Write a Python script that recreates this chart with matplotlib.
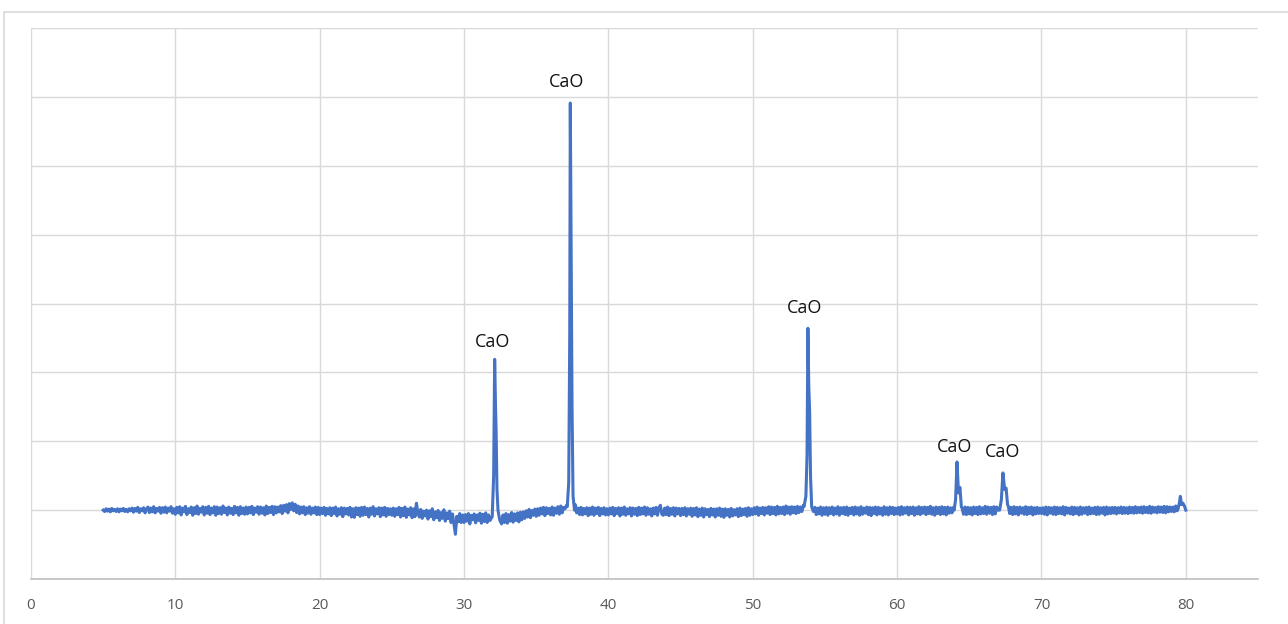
# Difratograma de raios X da amostra calcinada, com os picos de CaO identificados

import matplotlib.pyplot as plt
import numpy as np
from matplotlib.patches import Rectangle

nan = float('nan')

# Fundo (background) de 5.0 a 79.9 graus, passo de 0.1 grau.
# nan = trecho coberto pela varredura fina dos picos
passo_inicial = 5.0
passo = 0.1
fundo = [
    # 5 - 10
    1000, 980, 1020, 985, 1015, 975, 1025, 990, 1010, 980,
    1020, 975, 1015, 990, 1025, 980, 1010, 975, 1020, 990,
    1030, 970, 1025, 985, 1040, 965, 1020, 990, 1035, 960,
    1015, 1045, 965, 1030, 975, 1050, 960, 1025, 985, 1040,
    955, 1035, 970, 1045, 960, 1030, 985, 1050, 955, 1020,
    # 10 - 15
    940, 1040, 960, 1050, 930, 1030, 975, 1055, 935, 1020,
    965, 1045, 925, 1035, 950, 1060, 940, 1025, 970, 1050,
    930, 1040, 955, 1055, 935, 1030, 960, 1050, 925, 1045,
    950, 1035, 940, 1060, 965, 1030, 930, 1045, 955, 1025,
    935, 1055, 960, 1040, 925, 1050, 950, 1030, 940, 1045,
    # 15 - 20
    945, 1040, 960, 1055, 935, 1030, 970, 1050, 940, 1045,
    955, 1035, 930, 1060, 950, 1040, 965, 1055, 935, 1050,
    960, 1045, 975, 1065, 950, 1070, 985, 1080, 960, 1095,
    1010, 1105, 990, 1085, 965, 1060, 945, 1045, 960, 1050,
    935, 1035, 955, 1050, 940, 1030, 960, 1045, 935, 1040,
    # 20 - 25
    935, 1030, 950, 1040, 925, 1025, 945, 1035, 920, 1030,
    950, 1045, 915, 1020, 940, 1035, 905, 1030, 945, 1025,
    930, 1040, 900, 1020, 895, 1035, 935, 1030, 910, 1040,
    925, 1045, 935, 1025, 900, 1030, 940, 1050, 915, 1020,
    945, 1035, 905, 1030, 930, 1040, 910, 1025, 935, 1020,
    # 25 - 30
    925, 1030, 910, 1020, 935, 1040, 900, 1025, 920, 1045,
    895, 1015, 930, 1035, 890, 1020, 905, 1100, 960, 900,
    1010, 880, 985, 915, 1000, 870, 990, 905, 1020, 860,
    975, 890, 995, 850, 965, 880, 1005, 840, 960, 875,
    985, 820, 945, 800, 650, 910, 830, 950, 820, 930,
    # 30 - 35
    820, 935, 840, 950, 800, 925, 860, 945, 815, 930,
    850, 955, 810, 940, 835, 960, 820, 930, 850, 890,
    nan, nan, nan, nan, nan, 840, 800, 930, 820, 950,
    810, 935, 840, 965, 825, 945, 850, 960, 830, 970,
    860, 975, 880, 990, 900, 1010, 890, 995, 925, 1015,
    # 35 - 40
    910, 1020, 925, 1030, 945, 1040, 920, 1035, 950, 1025,
    930, 1045, 925, 1030, 955, 1050, 940, 1060, 960, 1040,
    1020, 1070, nan, nan, nan, nan, nan, 1080, 960, 1030,
    935, 1040, 930, 1025, 945, 1035, 920, 1030, 940, 1045,
    925, 1030, 950, 1040, 920, 1025, 945, 1035, 930, 1020,
    # 40 - 45
    930, 1030, 945, 1040, 920, 1025, 950, 1035, 915, 1030,
    940, 1045, 925, 1020, 945, 1035, 915, 1030, 940, 1025,
    920, 1040, 935, 1030, 945, 1045, 925, 1035, 940, 1020,
    915, 1030, 945, 1040, 925, 1035, 1070, 940, 925, 1030,
    935, 1045, 920, 1025, 940, 1035, 915, 1030, 945, 1025,
    # 45 - 50
    920, 1025, 935, 1035, 915, 1020, 940, 1030, 910, 1025,
    930, 1035, 905, 1015, 925, 1030, 900, 1020, 935, 1010,
    905, 1025, 930, 1015, 900, 1020, 925, 1030, 910, 1015,
    895, 1020, 925, 1010, 900, 1025, 915, 1005, 930, 1020,
    905, 1030, 920, 1015, 935, 1025, 910, 1035, 925, 1020,
    # 50 - 55
    935, 1035, 945, 1045, 925, 1030, 950, 1040, 930, 1035,
    955, 1050, 935, 1045, 950, 1040, 930, 1055, 945, 1040,
    950, 1045, 935, 1060, 955, 1045, 940, 1050, 960, 1045,
    950, 1055, 965, 1045, 980, 1070, nan, nan, nan, nan,
    nan, nan, nan, 1040, 935, 1030, 945, 1045, 925, 1035,
    # 55 - 60
    940, 1040, 925, 1035, 950, 1045, 930, 1030, 945, 1050,
    925, 1035, 950, 1040, 935, 1045, 925, 1030, 950, 1040,
    930, 1045, 945, 1035, 925, 1050, 940, 1030, 955, 1045,
    935, 1040, 920, 1035, 950, 1045, 930, 1040, 945, 1030,
    925, 1050, 940, 1035, 930, 1045, 950, 1040, 935, 1030,
    # 60 - 65
    945, 1040, 930, 1050, 940, 1035, 955, 1045, 930, 1040,
    950, 1045, 925, 1035, 945, 1050, 935, 1040, 955, 1045,
    935, 1040, 950, 1055, 940, 1035, 925, 1045, 950, 1040,
    935, 1050, 945, 1040, 930, 1045, 955, 1035, 960, 1040,
    nan, nan, nan, nan, nan, 1030, 940, 1045, 935, 1040,
    # 65 - 70
    945, 1035, 930, 1045, 950, 1040, 935, 1050, 945, 1035,
    950, 1055, 940, 1045, 955, 1040, 935, 1050, 945, 1045,
    1000, nan, nan, nan, nan, nan, nan, 1060, 950, 1040,
    935, 1050, 945, 1040, 930, 1045, 955, 1035, 940, 1050,
    935, 1040, 950, 1045, 930, 1035, 945, 1040, 950, 1030,
    # 70 - 75
    950, 1035, 940, 1045, 930, 1040, 955, 1035, 940, 1045,
    935, 1040, 950, 1035, 945, 1050, 930, 1040, 955, 1030,
    945, 1045, 935, 1040, 950, 1035, 930, 1045, 940, 1035,
    955, 1040, 935, 1045, 945, 1030, 950, 1040, 935, 1045,
    940, 1035, 955, 1040, 930, 1045, 945, 1035, 950, 1040,
    # 75 - 80
    955, 1040, 945, 1035, 960, 1045, 950, 1040, 955, 1035,
    950, 1045, 960, 1040, 955, 1050, 960, 1040, 965, 1045,
    955, 1050, 965, 1040, 960, 1055, 955, 1045, 970, 1040,
    960, 1050, 970, 1045, 965, 1055, 960, 1050, 975, 1045,
    980, 1045, 975, 1060, 990, nan, nan, nan, nan, nan,
]

# Picos de difracao (2theta, contagens) medidos com passo mais fino
pico_32 = ([31.95, 32.05, 32.12, 32.18, 32.22, 32.28, 32.35, 32.45],
           [900, 1500, 3190, 2500, 2160, 1300, 1000, 880])
pico_37 = ([37.15, 37.25, 37.32, 37.36, 37.40, 37.44, 37.48, 37.55, 37.65],
           [1050, 1400, 3500, 6910, 5500, 4150, 2500, 1200, 1000])
pico_54 = ([53.55, 53.68, 53.76, 53.82, 53.88, 53.94, 54.00, 54.08, 54.20],
           [1050, 1200, 1800, 3640, 2800, 2420, 1500, 1050, 980])
pico_64 = ([63.95, 64.05, 64.15, 64.25, 64.35, 64.45],
           [1000, 1150, 1700, 1250, 1330, 1050])
pico_67 = ([67.10, 67.22, 67.33, 67.45, 67.55, 67.65],
           [1000, 1150, 1540, 1300, 1320, 1080])
pico_80 = ([79.45, 79.55, 79.62, 79.70, 79.80, 79.90, 80.00],
           [1010, 1100, 1200, 1080, 1100, 1060, 1000])
picos = [pico_32, pico_37, pico_54, pico_64, pico_67, pico_80]

# Rotulos das fases: (2theta, altura da linha de base do texto)
rotulos_x = [32.0, 37.1, 53.6, 64.0, 67.3]
rotulos_y = [3370, 7140, 3860, 1840, 1770]
rotulos_txt = ['CaO', 'CaO', 'CaO', 'CaO', 'CaO']

# Junta fundo e picos num unico difratograma ordenado por 2theta
fundo = np.array(fundo, dtype=float)
theta_fundo = np.round(passo_inicial + passo * np.arange(len(fundo)), 2)
manter = ~np.isnan(fundo)

dois_theta = np.concatenate([theta_fundo[manter]] + [np.array(p[0]) for p in picos])
intensidade = np.concatenate([fundo[manter]] + [np.array(p[1], dtype=float) for p in picos])
ordem = np.argsort(dois_theta)
dois_theta = dois_theta[ordem]
intensidade = intensidade[ordem]

plt.rcParams['font.family'] = ['Open Sans', 'DejaVu Sans']

fig = plt.figure(figsize=(12.88, 6.24), dpi=100)
ax = fig.add_axes([31 / 1288, 1 - 579 / 624, (1258 - 31) / 1288, (579 - 28) / 624])

# Moldura do grafico
fig.patches.append(Rectangle((4 / 1288, -0.05), 1.2, (618 - 6) / 624 + 0.05,
                             transform=fig.transFigure, fill=False,
                             edgecolor='#D9D9D9', linewidth=1.2))

ax.plot(dois_theta, intensidade, color='#4472C4', linewidth=2.2,
        solid_joinstyle='round', zorder=3)

for x, y, t in zip(rotulos_x, rotulos_y, rotulos_txt):
    ax.text(x, y, t, ha='center', va='baseline', fontsize=13, color='#111111')

ax.set_xlim(0, 85)
ax.set_ylim(0, 8000)
ax.set_xticks(np.arange(0, 81, 10))
ax.set_yticks(np.arange(0, 8001, 1000))
ax.set_yticklabels([])
ax.grid(True, color='#D9D9D9', linewidth=1.0, zorder=0)
ax.set_axisbelow(True)
ax.tick_params(axis='both', length=0)
ax.tick_params(axis='x', labelsize=11, labelcolor='#595959', pad=14)

for lado in ['top', 'right', 'left']:
    ax.spines[lado].set_visible(False)
ax.spines['bottom'].set_color('#BFBFBF')
ax.spines['bottom'].set_linewidth(1.2)

fig.savefig('out.png', dpi=100)
